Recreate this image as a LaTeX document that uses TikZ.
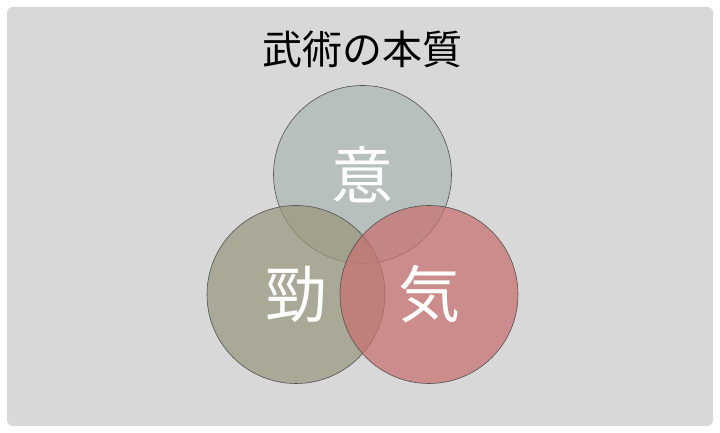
\documentclass[tikz,border=0pt]{standalone}
\usepackage{fontspec}
\setmainfont{Noto Sans CJK JP}
\definecolor{slidegray}{RGB}{216,216,216}
\definecolor{yicol}{RGB}{172,183,179}
\definecolor{jincol}{RGB}{153,150,125}
\definecolor{qicol}{RGB}{200,112,112}
\definecolor{ringline}{RGB}{80,80,80}
\tikzset{
	ring/.style={circle, draw=ringline, line width=0.6pt, minimum size=178pt, inner sep=0pt,
		fill opacity=0.72},
	ringlabel/.style={text=white, font=\fontsize{62}{62}\selectfont},
}
\begin{document}
\begin{tikzpicture}[x=1pt, y=1pt]
	\useasboundingbox (0,0) rectangle (720,433);
	\fill[white] (0,0) rectangle (720,433);
	\fill[slidegray, rounded corners=6pt] (7,7) rectangle (713,426);

	\node (title) at (362, 384) {\fontsize{40}{40}\selectfont 武術の本質};

	\node[ring, fill=yicol] (yi) at (362.5, 258.5) {};
	\node[ring, fill=jincol] (jin) at (296, 138.5) {};
	\node[ring, fill=qicol] (qi) at (429, 138.5) {};

	\node[ringlabel] (yilabel) at (yi) {意};
	\node[ringlabel] (jinlabel) at (jin) {勁};
	\node[ringlabel] (qilabel) at (qi) {気};
\end{tikzpicture}
\end{document}
